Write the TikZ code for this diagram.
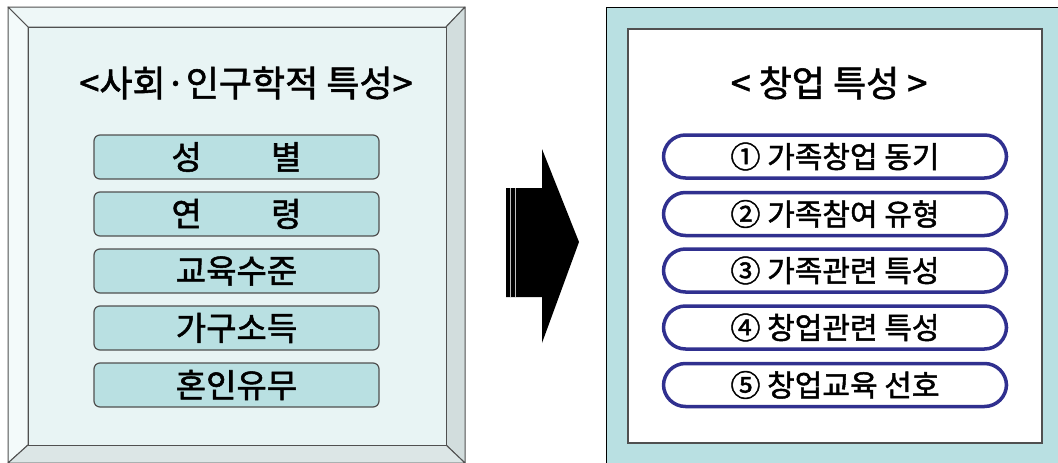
\documentclass[tikz,border=0pt]{standalone}
\usepackage{fontspec}
\setmainfont{Noto Sans CJK KR}[FakeBold=1.6]
\definecolor{facecyan}{HTML}{E8F4F4}
\definecolor{bevlight}{HTML}{F3FAFA}
\definecolor{bevtop}{HTML}{EEF7F7}
\definecolor{bevright}{HTML}{D2DDDD}
\definecolor{bevbottom}{HTML}{DCE6E6}
\definecolor{itemcyan}{HTML}{B9E0E2}
\definecolor{edgegray}{HTML}{505050}
\definecolor{pillnavy}{HTML}{30308F}
\tikzset{
  framepart/.style={draw=edgegray, line width=1pt, line join=round},
  itembox/.style={draw=edgegray, line width=1.2pt, fill=itemcyan, rounded corners=6pt,
    minimum width=285pt, minimum height=44pt, inner sep=0pt, font=\fontsize{33}{33}\selectfont},
  pillbox/.style={draw=pillnavy, line width=3.5pt, fill=white, rounded corners=22pt,
    minimum width=343pt, minimum height=43pt, inner sep=0pt, font=\fontsize{30}{30}\selectfont},
  titletext/.style={font=\fontsize{36}{36}\selectfont, inner sep=0pt},
}
\begin{document}
\begin{tikzpicture}[x=1pt,y=-1pt]
\useasboundingbox (0,0) rectangle (1058,463);
\fill[white] (0,0) rectangle (1058,463);

% left panel: bevelled frame
\coordinate (oa) at (8,7);   \coordinate (ob) at (465,7);
\coordinate (oc) at (465,463); \coordinate (od) at (8,463);
\coordinate (ia) at (28,27); \coordinate (ib) at (446,27);
\coordinate (ic) at (446,445); \coordinate (id) at (28,445);
\filldraw[framepart, fill=bevtop] (oa) -- (ob) -- (ib) -- (ia) -- cycle;
\filldraw[framepart, fill=bevlight] (oa) -- (ia) -- (id) -- (od) -- cycle;
\filldraw[framepart, fill=bevright] (ob) -- (oc) -- (ic) -- (ib) -- cycle;
\filldraw[framepart, fill=bevbottom] (id) -- (ic) -- (oc) -- (od) -- cycle;
\filldraw[framepart, fill=facecyan] (ia) rectangle (ic);

\node[titletext] (ltitle) at (246,83) {<사회·인구학적 특성>};
\node[itembox] (l1) at (236.5,157) {성\hspace{2.1em}별};
\node[itembox] (l2) at (236.5,214) {연\hspace{2.1em}령};
\node[itembox] (l3) at (236.5,271) {교육수준};
\node[itembox] (l4) at (236.5,328) {가구소득};
\node[itembox] (l5) at (236.5,385) {혼인유무};

% arrow between panels
\coordinate (a1) at (506,188); \coordinate (a2) at (542,188);
\coordinate (a3) at (542,149); \coordinate (a4) at (579,242);
\coordinate (a5) at (542,343); \coordinate (a6) at (542,297);
\coordinate (a7) at (506,297);
\fill[black] (a1) -- (a2) -- (a3) -- (a4) -- (a5) -- (a6) -- (a7) -- cycle;
\draw[white!75!black, line width=0.7pt] (510,188) -- (510,297);
\draw[white!75!black, line width=0.7pt] (515,188) -- (515,297);

% right panel
\filldraw[draw=black, line width=1pt, fill=itemcyan] (606,7) rectangle (1060,465);
\filldraw[draw=edgegray, line width=1.5pt, fill=white] (628,29) rectangle (1042,443);

\node[titletext] (rtitle) at (829,83) {<\ 창업\ 특성\ >};
\node[pillbox] (r1) at (835,156.5) {① 가족창업 동기};
\node[pillbox] (r2) at (835,214) {② 가족참여 유형};
\node[pillbox] (r3) at (835,270.5) {③ 가족관련 특성};
\node[pillbox] (r4) at (835,327.5) {④ 창업관련 특성};
\node[pillbox] (r5) at (835,385) {⑤ 창업교육 선호};
\end{tikzpicture}
\end{document}
